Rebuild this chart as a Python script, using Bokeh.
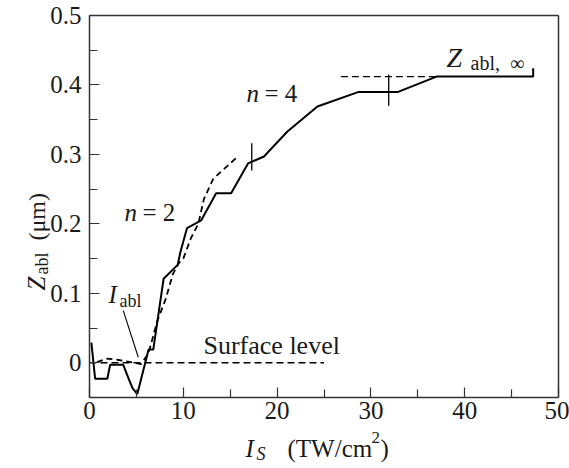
import math
from bokeh.plotting import figure
from bokeh.models import Label, FixedTicker, Range1d, LinearAxis
from bokeh.embed import file_html
from bokeh.resources import INLINE

# ---- data ----
solid_x = [0.2, 0.6, 1.9, 2.2, 3.6, 4.2, 4.6, 5.1, 6.3, 6.8, 7.9, 9.4, 9.7, 10.4, 11.9,
           13.5, 15.1, 16.9, 18.6, 21.1, 24.3, 28.7, 32.9, 37.0, 47.3, 47.3]
solid_y = [0.029, -0.023, -0.023, -0.003, -0.003, -0.024, -0.037, -0.045, 0.019, 0.019,
           0.121, 0.141, 0.16, 0.194, 0.205, 0.244, 0.244, 0.287, 0.297, 0.333, 0.369,
           0.39, 0.39, 0.412, 0.412, 0.424]

dashed_x = [0.8, 1.9, 3.1, 4.4, 5.5, 6.3, 7.2, 8.1, 8.9, 9.5, 10.0, 10.8, 11.6, 12.2, 13.2, 15.9]
dashed_y = [0.001, 0.006, 0.004, 0.001, -0.002, 0.014, 0.059, 0.091, 0.128, 0.143, 0.15,
            0.179, 0.2, 0.236, 0.265, 0.298]

surface_x = [0.0, 25.0]
surface_y = [0.0, 0.0]

zinf_x = [26.8, 37.0]
zinf_y = [0.412, 0.412]

mark1_x = [17.3, 17.3]
mark1_y = [0.277, 0.316]
mark2_x = [31.9, 31.9]
mark2_y = [0.370, 0.415]

leader_x = [3.6, 5.2]
leader_y = [0.075, 0.008]

x_ticks = [0, 10, 20, 30, 40, 50]
x_minor = [5, 15, 25, 35, 45]
y_ticks = [0, 0.1, 0.2, 0.3, 0.4, 0.5]
y_minor = [-0.05, 0.05, 0.15, 0.25, 0.35, 0.45]

FONT = "serif"
INK = "#1a1a1a"

W, H = 569, 468
L, R, T, B = 89, 558, 15, 397
XMIN, XMAX, YMIN, YMAX = 0.0, 50.0, -0.05, 0.5
sx = (XMAX - XMIN) / (R - L)
sy = (YMAX - YMIN) / (B - T)

def X(px):
    return XMIN + (px - L) * sx

def Y(py):
    return YMAX - (py - T) * sy

p = figure(width=W, height=H, output_backend="svg", toolbar_location=None,
           x_range=Range1d(X(0), X(W)), y_range=Range1d(Y(H), Y(0)),
           x_axis_location=None, y_axis_location=None,
           min_border=0, min_border_left=0, min_border_right=0,
           min_border_top=0, min_border_bottom=0)
p.title.visible = False
p.grid.visible = False
p.outline_line_color = None
p.background_fill_color = "white"
p.border_fill_color = "white"

def style_axis(ax):
    ax.axis_line_color = "#333333"
    ax.axis_line_width = 1.5
    ax.major_tick_in = 10
    ax.major_tick_out = 0
    ax.minor_tick_in = 8
    ax.minor_tick_out = 0
    ax.major_tick_line_color = "#333333"
    ax.minor_tick_line_color = "#333333"
    ax.major_tick_line_width = 1.2
    ax.minor_tick_line_width = 1.2
    ax.major_label_text_font = FONT
    ax.major_label_text_font_size = "25px"
    ax.major_label_text_color = INK

xax = LinearAxis(fixed_location=YMIN, bounds=(XMIN, XMAX),
                 ticker=FixedTicker(ticks=x_ticks, minor_ticks=x_minor))
style_axis(xax)
xax.major_label_standoff = 4
p.add_layout(xax, "below")

yax = LinearAxis(fixed_location=XMIN, bounds=(YMIN, YMAX),
                 ticker=FixedTicker(ticks=y_ticks, minor_ticks=y_minor))
style_axis(yax)
yax.major_label_overrides = {0: "0"}
yax.major_label_standoff = 8
p.add_layout(yax, "left")

top = LinearAxis(fixed_location=YMAX, bounds=(XMIN, XMAX), ticker=FixedTicker(ticks=[]))
right = LinearAxis(fixed_location=XMAX, bounds=(YMIN, YMAX), ticker=FixedTicker(ticks=[]))
for ax in (top, right):
    ax.axis_line_color = "#333333"
    ax.axis_line_width = 1.5
    ax.major_tick_in = 0
    ax.major_tick_out = 0
    ax.minor_tick_in = 0
    ax.minor_tick_out = 0
    ax.major_label_text_font_size = "0px"
p.add_layout(top, "above")
p.add_layout(right, "right")

p.line(dashed_x, dashed_y, line_color="black", line_width=1.8, line_dash="6 4")
p.line(solid_x, solid_y, line_color="black", line_width=2)
p.line(surface_x, surface_y, line_color="black", line_width=1.3, line_dash="7 4")
p.line(zinf_x, zinf_y, line_color="black", line_width=1.3, line_dash="7 4")
p.line(mark1_x, mark1_y, line_color="black", line_width=1.3)
p.line(mark2_x, mark2_y, line_color="black", line_width=1.3)
p.line(leader_x, leader_y, line_color="black", line_width=1.1)

OFF = 8  # rendered baseline sits this much below the anchor

def lab(px, py, t, size, style="normal", angle=0.0):
    if angle == 0:
        ax_, ay_ = px, py - OFF
    else:
        ax_, ay_ = px - OFF, py
    p.add_layout(Label(x=X(ax_), y=Y(ay_), text=t,
                       text_font=FONT, text_font_size=size,
                       text_font_style=style, text_color=INK,
                       text_align="left", text_baseline="alphabetic", angle=angle))

# in-plot annotations
lab(108, 302, "I", "25px", "italic")
lab(119, 308, "abl", "18px")
lab(203, 353, "Surface level", "26px")
lab(124, 220, "n", "25px", "italic")
lab(142, 220, "= 2", "25px")
lab(246, 101, "n", "25px", "italic")
lab(264, 101, "= 4", "25px")
lab(446, 65, "Z", "28px", "italic")
lab(470, 70, "abl,\u2002\u221e", "20px")

# x-axis title
lab(245, 456, "I", "25px", "italic")
lab(256, 461, "S", "18px", "italic")
lab(287, 456, "(TW/cm", "25px")
lab(371, 445, "2", "17px")
lab(380, 456, ")", "25px")

# y-axis title (rotated)
A = math.pi / 2
lab(44, 290, "Z", "25px", "italic", A)
lab(49, 274, "abl", "18px", "normal", A)
lab(44, 240, "(\u03bcm)", "24px", "normal", A)

open("out.html", "w").write(file_html(p, INLINE))
